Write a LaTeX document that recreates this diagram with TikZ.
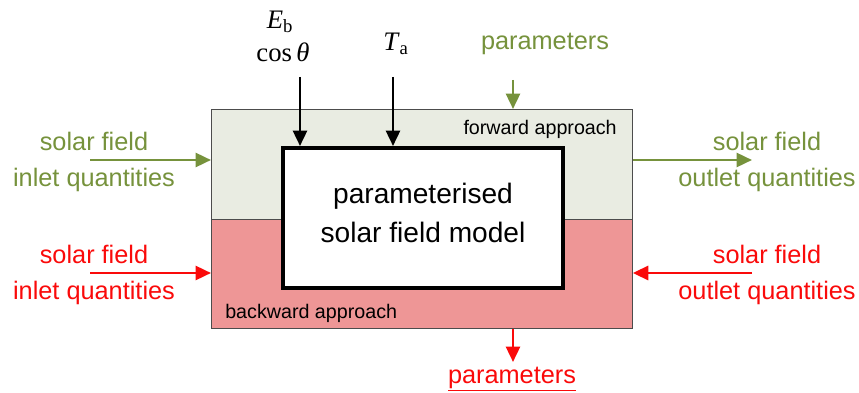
\documentclass[tikz,border=0pt]{standalone}
\usepackage[no-math]{fontspec}
\setmainfont{Liberation Sans}
\newfontfamily\symfont{Liberation Serif}
\usetikzlibrary{arrows.meta,positioning,calc}
\definecolor{fwdgreen}{RGB}{118,146,60}
\definecolor{bwdred}{RGB}{250,10,10}
\definecolor{fwdfill}{RGB}{233,236,226}
\definecolor{bwdfill}{RGB}{238,150,150}

\begin{document}
\begin{tikzpicture}[x=0.025cm, y=-0.025cm,
    flow/.style={-{Triangle[length=11pt, width=10pt]}, line width=1.9pt},
    big/.style={font=\fontsize{18}{25}\selectfont, align=center, inner sep=0pt},
    small/.style={font=\fontsize{14}{16}\selectfont, inner sep=0pt},
    region/.style={draw=black!70, line width=0.5pt, minimum width=10.525cm,
                   inner sep=0pt, anchor=north west}]

  \useasboundingbox (0,0) rectangle (859,393);

  % Regions of both approaches
  \node[region, fill=fwdfill, minimum height=2.75cm] (fwd) at (211,109) {};
  \node[region, fill=bwdfill, minimum height=2.725cm] (bwd) at (211,219) {};
  \node[small, anchor=east] (fwdlabel) at (617,129) {forward approach};
  \node[small, anchor=west] (bwdlabel) at (225,313) {backward approach};

  % Model box
  \node[draw, line width=2.8pt, fill=white, minimum width=7cm, minimum height=3.5cm]
        (model) at (423,218) {};
  \node[font=\fontsize{20}{28}\selectfont, align=center] (modeltext) at (423,213)
        {parameterised\\solar field model};

  % Inputs from above
  \node[big, font=\symfont\fontsize{19}{25}\selectfont] (Eb) at (280,22)
        {\textit{E}\textsubscript{b}};
  \node[big, font=\symfont\fontsize{19}{25}\selectfont] (cos) at (283,52)
        {cos\,\textit{θ}};
  \node[big, font=\symfont\fontsize{19}{25}\selectfont] (Ta) at (396,44)
        {\textit{T}\textsubscript{a}};
  \coordinate (EbTop) at (300,77);
  \coordinate (TaTop) at (393,77);
  \draw[flow] (EbTop) -- (EbTop |- model.north);
  \draw[flow] (TaTop) -- (TaTop |- model.north);

  % Forward approach (green)
  \node[big, text=fwdgreen] (fwdpar) at (545,44) {parameters};
  \coordinate (fwdparTop) at (513,80);
  \draw[flow, fwdgreen] (fwdparTop) -- (fwdparTop |- fwd.north);

  \node[big, text=fwdgreen] (fwdin) at (94,162) {solar field\\inlet quantities};
  \node[big, text=fwdgreen] (fwdout) at (767,162) {solar field\\outlet quantities};
  \coordinate (fwdinStart) at (90,160);
  \coordinate (fwdoutEnd) at (752,160);
  \draw[flow, fwdgreen] (fwdinStart) -- (fwdinStart -| fwd.west);
  \draw[flow, fwdgreen] (fwdoutEnd -| fwd.east) -- (fwdoutEnd);

  % Backward approach (red)
  \node[big, text=bwdred] (bwdin) at (94,275) {solar field\\inlet quantities};
  \node[big, text=bwdred] (bwdout) at (767,275) {solar field\\outlet quantities};
  \coordinate (bwdinStart) at (90,273);
  \coordinate (bwdoutStart) at (752,273);
  \draw[flow, bwdred] (bwdinStart) -- (bwdinStart -| bwd.west);
  \draw[flow, bwdred] (bwdoutStart) -- (bwdoutStart -| bwd.east);

  \node[big, text=bwdred] (bwdpar) at (512,379) {\underline{parameters}};
  \coordinate (bwdparEnd) at (513,362);
  \draw[flow, bwdred] (bwdparEnd |- bwd.south) -- (bwdparEnd);

\end{tikzpicture}
\end{document}
